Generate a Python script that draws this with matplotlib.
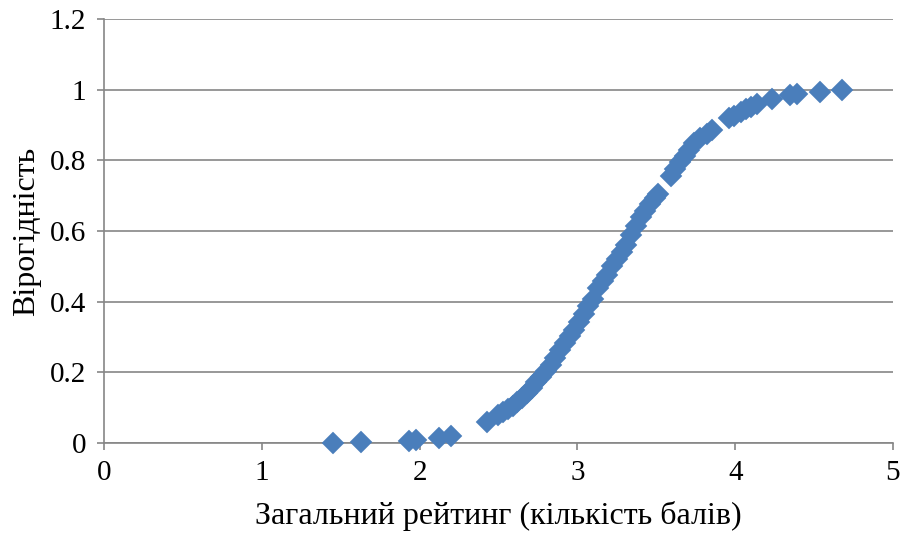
import matplotlib
matplotlib.use("Agg")
import matplotlib.pyplot as plt
from matplotlib.ticker import FuncFormatter, MultipleLocator

# Data (rating score vs. probability)
rating = [1.451, 1.63, 1.93, 1.977, 2.12, 2.197, 2.428,
          2.50, 2.53, 2.56, 2.59, 2.62, 2.65, 2.68, 2.71, 2.74, 2.77,
          2.80, 2.83, 2.86, 2.89, 2.92, 2.95, 2.98, 3.01, 3.04, 3.07,
          3.10, 3.13, 3.16, 3.19, 3.22, 3.25, 3.28, 3.31, 3.34, 3.37,
          3.40, 3.43, 3.46, 3.49, 3.51,
          3.59, 3.62, 3.65, 3.68, 3.71, 3.74, 3.78, 3.82, 3.85,
          3.96, 3.99, 4.035, 4.07, 4.10, 4.14, 4.234, 4.35, 4.39, 4.54, 4.675]
probability = [0.000, 0.003, 0.007, 0.008, 0.015, 0.021, 0.060,
               0.080, 0.087, 0.095, 0.105, 0.116, 0.128, 0.142, 0.157, 0.172, 0.188,
               0.204, 0.222, 0.241, 0.262, 0.283, 0.302, 0.320, 0.343, 0.365, 0.387,
               0.408, 0.440, 0.458, 0.475, 0.500, 0.522, 0.540, 0.560, 0.590, 0.615,
               0.640, 0.658, 0.676, 0.694, 0.705,
               0.755, 0.775, 0.795, 0.812, 0.830, 0.848, 0.862, 0.875, 0.886,
               0.919, 0.926, 0.938, 0.945, 0.951, 0.960, 0.973, 0.985, 0.989, 0.994, 0.999]

x_label = "Загальний рейтинг (кількість балів)"
y_label = "Вірогідність"

plt.rcParams['font.family'] = ['Liberation Serif', 'DejaVu Serif']

fig = plt.figure(figsize=(9.04, 5.35), dpi=100)
ax = fig.add_axes([104/904, 1-443/535, (893-104)/904, (443-19)/535])

grid_c = '#868686'
ax.plot(rating, probability, linestyle='none', marker='D', markersize=11.5,
        color='#4A7EBB', markeredgecolor='#4A7EBB', markeredgewidth=0.3, zorder=3,
        clip_on=False)

ax.set_xlim(0, 5)
ax.set_ylim(0, 1.2)
ax.xaxis.set_major_locator(MultipleLocator(1))
ax.yaxis.set_major_locator(MultipleLocator(0.2))
ax.yaxis.set_major_formatter(FuncFormatter(lambda v, p: f"{v:g}"))

ax.grid(axis='y', color=grid_c, linewidth=1.2)
ax.set_axisbelow(True)
for s in ['top', 'right']:
    ax.spines[s].set_visible(False)
for s in ['left', 'bottom']:
    ax.spines[s].set_color(grid_c)
    ax.spines[s].set_linewidth(1.2)

ax.tick_params(axis='both', colors=grid_c, length=5, width=1.2, labelsize=21,
               labelcolor='black')
ax.tick_params(axis='y', pad=8)
ax.tick_params(axis='x', pad=7)

ax.set_xlabel(x_label, fontsize=23, labelpad=11)
ax.set_ylabel(y_label, fontsize=23, labelpad=6)

fig.savefig("out.png", dpi=100)
